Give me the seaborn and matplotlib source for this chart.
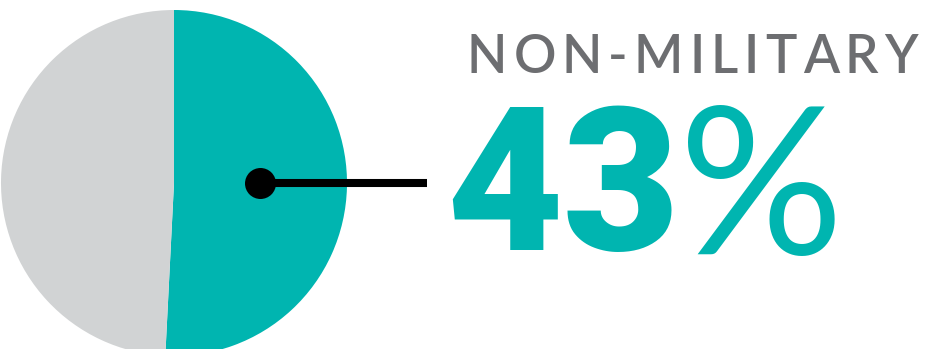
import matplotlib
matplotlib.use("Agg")
import matplotlib.pyplot as plt
import seaborn as sns

# Share of the budget split shown in the pie (percent)
segments = ["Non-military", "Military"]
shares = [50.8, 49.2]
segment_colors = ["#00b5b0", "#d1d3d4"]

# Headline figure
headline_label = "NON-MILITARY"
headline_value = "43"
headline_unit = "%"

sns.set_theme(style="white")
plt.rcParams["font.family"] = ["Lato", "DejaVu Sans"]

W, H = 927, 349
fig = plt.figure(figsize=(W / 100, H / 100), dpi=100)
ax = fig.add_axes([0, 0, 1, 1])

cx, cy, r = 174, H - 183, 173
ax.pie(shares, colors=segment_colors, startangle=90, counterclock=False,
       center=(cx, cy), radius=r, frame=True,
       wedgeprops=dict(linewidth=0))
ax.set_xlim(0, W)
ax.set_ylim(0, H)
ax.set_aspect("equal")
ax.axis("off")

# Leader from the teal slice to the headline
dot_x = cx + 0.5 * r
ax.plot([dot_x, 427], [cy, cy], color="black", lw=5.8, solid_capstyle="butt", zorder=5)
ax.scatter([dot_x], [cy], s=(31 * 0.72) ** 2, color="black", zorder=6, linewidths=0)

# Letter-spaced caption
fig.canvas.draw()
renderer = fig.canvas.get_renderer()
x0, x1 = 467, 918
base_y = H - 73
size = 38
chars = list(headline_label)
widths = []
for ch in chars:
    t = ax.text(0, 0, ch, fontsize=size, fontweight="semibold")
    bb = t.get_window_extent(renderer=renderer)
    widths.append(bb.width)
    t.remove()
gap = (x1 - x0 - sum(widths)) / (len(chars) - 1)
x = x0
for ch, w in zip(chars, widths):
    ax.text(x, base_y, ch, fontsize=size, fontweight="semibold", color="#6d6e71",
            ha="left", va="baseline")
    x += w + gap

# Big number
ax.text(446, H - 250, headline_value, fontsize=145, fontweight="black",
        family=["Roboto", "Lato", "DejaVu Sans"],
        color="#00b5b0", ha="left", va="baseline")
ax.text(679, H - 254, headline_unit, fontsize=148, fontweight="regular",
        color="#00b5b0", ha="left", va="baseline")

fig.savefig("out.png", dpi=100)
